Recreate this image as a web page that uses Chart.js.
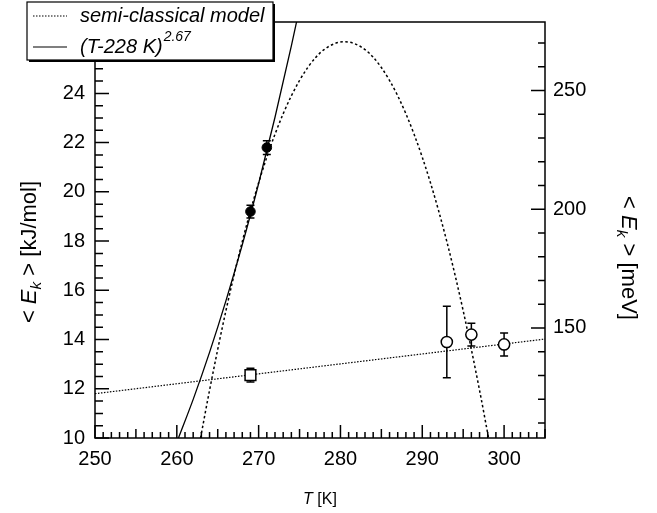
<!DOCTYPE html>
<html lang="en">
<head>
<meta charset="UTF-8">
<title>Mean kinetic energy vs temperature</title>
<script src="https://cdn.jsdelivr.net/npm/chart.js"></script>
<style>
  html, body { margin: 0; padding: 0; background: #fff; }
  #wrap { position: relative; width: 657px; height: 513px; }
</style>
</head>
<body>
<div id="wrap"><canvas id="myChart" width="657" height="513"></canvas></div>
<script>
// measured points (T in K, <Ek> in kJ/mol)
const filledT = [269, 271];
const filledE = [19.2, 21.8];
const filledErr = [0.26, 0.28];

const squareT = [269];
const squareE = [12.55];
const squareErr = [0.28];

const openT = [293, 296, 300];
const openE = [13.9, 14.2, 13.8];
const openErr = [1.45, 0.46, 0.47];

// semi-classical model curve
const modelT = [262.9, 264, 266, 268, 270, 272, 274, 276, 278, 280.5, 283, 285, 287, 289, 291, 293, 295, 297, 298.1];
const modelE = [10.0, 11.94, 15.17, 17.98, 20.37, 22.34, 23.9, 25.05, 25.78, 26.1, 25.78, 25.05, 23.9, 22.34, 20.37, 17.98, 15.17, 11.94, 10.0];

// (T-228 K)^2.67 curve
const powT = [260.2, 262, 264, 266, 268, 270, 272, 274, 275];
const powE = [10.0, 11.57, 13.48, 15.57, 17.85, 20.34, 23.03, 25.93, 27.47];

// straight dotted line
const fitT = [250, 305];
const fitE = [11.8, 14.02];

// tick labels
const xTicks = [250, 260, 270, 280, 290, 300];
const yTicks = [10, 12, 14, 16, 18, 20, 22, 24];
const meVTicks = [150, 200, 250];

const kJtomeV = 10.364;
const yMin = 10, yMax = 26.9;

const FONT = "'Liberation Sans', Arial, Helvetica, sans-serif";

function pts(xs, ys) {
    return xs.map((x, i) => ({ x: x, y: ys[i] }));
}

// draws a string made of several styled parts, centred on (x, y), rotated by angle
function drawRich(ctx, parts, x, y, angle, size) {
    ctx.save();
    ctx.translate(x, y);
    ctx.rotate(angle);
    ctx.textBaseline = 'middle';
    ctx.textAlign = 'left';
    let total = 0;
    parts.forEach(p => {
        const s = p.sub || p.sup ? size * 0.7 : size;
        ctx.font = (p.italic ? 'italic ' : '') + s + 'px ' + FONT;
        p.w = ctx.measureText(p.t).width;
        p.s = s;
        total += p.w;
    });
    let cx = -total / 2;
    parts.forEach(p => {
        ctx.font = (p.italic ? 'italic ' : '') + p.s + 'px ' + FONT;
        let dy = 0;
        if (p.sub) dy = size * 0.3;
        if (p.sup) dy = -size * 0.45;
        ctx.fillText(p.t, cx, dy);
        cx += p.w;
    });
    ctx.restore();
}

const errorBars = {
    id: 'errorBars',
    beforeDatasetsDraw(chart) {
        const ctx = chart.ctx;
        const xs = chart.scales.x, ys = chart.scales.y;
        const sets = [[filledT, filledE, filledErr], [squareT, squareE, squareErr], [openT, openE, openErr]];
        ctx.save();
        ctx.strokeStyle = '#000';
        ctx.lineWidth = 1.5;
        sets.forEach(([T, E, err]) => {
            T.forEach((t, i) => {
                const px = xs.getPixelForValue(t);
                const top = ys.getPixelForValue(E[i] + err[i]);
                const bot = ys.getPixelForValue(E[i] - err[i]);
                ctx.beginPath();
                ctx.moveTo(px, top); ctx.lineTo(px, bot);
                ctx.moveTo(px - 4, top); ctx.lineTo(px + 4, top);
                ctx.moveTo(px - 4, bot); ctx.lineTo(px + 4, bot);
                ctx.stroke();
            });
        });
        ctx.restore();
    }
};

const frameAndLabels = {
    id: 'frameAndLabels',
    afterDraw(chart) {
        const ctx = chart.ctx;
        const a = chart.chartArea;
        const xs = chart.scales.x, ys = chart.scales.y, y2 = chart.scales.y2;
        ctx.save();
        ctx.strokeStyle = '#000';
        ctx.lineWidth = 1.5;
        ctx.strokeRect(a.left, a.top, a.right - a.left, a.bottom - a.top);

        // inward ticks
        ctx.beginPath();
        for (let v = 250; v <= 305; v += 1) {
            const px = xs.getPixelForValue(v);
            const len = v % 10 === 0 ? 13 : (v % 5 === 0 ? 9 : 6);
            ctx.moveTo(px, a.bottom); ctx.lineTo(px, a.bottom - len);
        }
        for (let v = 10; v <= 26.9; v += 0.5) {
            const py = ys.getPixelForValue(v);
            const len = v % 2 === 0 ? 14 : 8;
            ctx.moveTo(a.left, py); ctx.lineTo(a.left + len, py);
        }
        for (let v = 110; v <= 270; v += 10) {
            const py = y2.getPixelForValue(v);
            const len = v % 50 === 0 ? 14 : 7;
            ctx.moveTo(a.right, py); ctx.lineTo(a.right - len, py);
        }
        ctx.stroke();

        ctx.fillStyle = '#000';
        // axis titles
        drawRich(ctx, [{ t: '< ' }, { t: 'E', italic: true }, { t: 'k', italic: true, sub: true }, { t: ' > [kJ/mol]' }],
            30, 252, -Math.PI / 2, 22);
        drawRich(ctx, [{ t: '< ' }, { t: 'E', italic: true }, { t: 'k', italic: true, sub: true }, { t: ' > [meV]' }],
            628, 258, Math.PI / 2, 22);
        drawRich(ctx, [{ t: 'T', italic: true }, { t: ' [K]' }], 320, 500, 0, 16);

        // legend box
        ctx.fillStyle = '#000';
        ctx.fillRect(29, 4, 246, 58);
        ctx.fillStyle = '#fff';
        ctx.fillRect(27, 2, 246, 58);
        ctx.lineWidth = 1.2;
        ctx.strokeRect(27, 2, 246, 58);

        ctx.lineWidth = 1.2;
        ctx.setLineDash([1.5, 1.5]);
        ctx.beginPath(); ctx.moveTo(33, 16); ctx.lineTo(67, 16); ctx.stroke();
        ctx.setLineDash([]);
        ctx.beginPath(); ctx.moveTo(33, 47); ctx.lineTo(67, 47); ctx.stroke();

        ctx.fillStyle = '#000';
        ctx.textAlign = 'left';
        ctx.textBaseline = 'middle';
        ctx.font = 'italic 20px ' + FONT;
        ctx.fillText('semi-classical model', 80, 16);
        ctx.fillText('(T-228 K)', 80, 47);
        const w = ctx.measureText('(T-228 K)').width;
        ctx.font = 'italic 14px ' + FONT;
        ctx.fillText('2.67', 80 + w + 1, 37);
        ctx.restore();
    }
};

const tickFont = { family: FONT, size: 20 };

const ctx = document.getElementById('myChart');
const myChart = new Chart(ctx, {
    type: 'scatter',
    data: {
        datasets: [
            {
                label: 'filled',
                data: pts(filledT, filledE),
                pointStyle: 'circle',
                pointRadius: 4.8,
                backgroundColor: '#000',
                borderColor: '#000',
                borderWidth: 1
            },
            {
                label: 'square',
                data: pts(squareT, squareE),
                pointStyle: 'rect',
                pointRadius: 7.6,
                backgroundColor: '#fff',
                borderColor: '#000',
                borderWidth: 1.5
            },
            {
                label: 'open',
                data: pts(openT, openE),
                pointStyle: 'circle',
                pointRadius: 5.6,
                backgroundColor: '#fff',
                borderColor: '#000',
                borderWidth: 1.5
            },
            {
                label: 'semi-classical model',
                data: pts(modelT, modelE),
                showLine: true,
                pointRadius: 0,
                borderColor: '#000',
                borderWidth: 1.5,
                borderDash: [2.5, 2.5],
                cubicInterpolationMode: 'monotone'
            },
            {
                label: '(T-228 K)^2.67',
                data: pts(powT, powE),
                showLine: true,
                pointRadius: 0,
                borderColor: '#000',
                borderWidth: 1.3,
                cubicInterpolationMode: 'monotone'
            },
            {
                label: 'linear',
                data: pts(fitT, fitE),
                showLine: true,
                pointRadius: 0,
                borderColor: '#000',
                borderWidth: 1.2,
                borderDash: [1.5, 1.5]
            }
        ]
    },
    options: {
        responsive: false,
        animation: false,
        layout: { padding: { top: 13 } },
        plugins: {
            legend: { display: false },
            tooltip: { enabled: false }
        },
        scales: {
            x: {
                type: 'linear',
                position: 'bottom',
                min: 250,
                max: 305,
                grid: { display: false, drawTicks: false },
                border: { display: false },
                afterBuildTicks: s => { s.ticks = xTicks.map(v => ({ value: v })); },
                afterFit: s => { s.height = 75; },
                ticks: { color: '#000', font: tickFont, padding: 9, maxRotation: 0 }
            },
            y: {
                type: 'linear',
                position: 'left',
                min: yMin,
                max: yMax,
                grid: { display: false, drawTicks: false },
                border: { display: false },
                afterBuildTicks: s => { s.ticks = yTicks.map(v => ({ value: v })); },
                afterFit: s => { s.width = 95; },
                ticks: { color: '#000', font: tickFont, padding: 10 }
            },
            y2: {
                type: 'linear',
                position: 'right',
                min: yMin * kJtomeV,
                max: yMax * kJtomeV,
                grid: { display: false, drawTicks: false },
                border: { display: false },
                afterBuildTicks: s => { s.ticks = meVTicks.map(v => ({ value: v })); },
                afterFit: s => { s.width = 112; },
                ticks: { color: '#000', font: tickFont, padding: 8 }
            }
        }
    },
    plugins: [errorBars, frameAndLabels]
});
</script>
</body>
</html>
